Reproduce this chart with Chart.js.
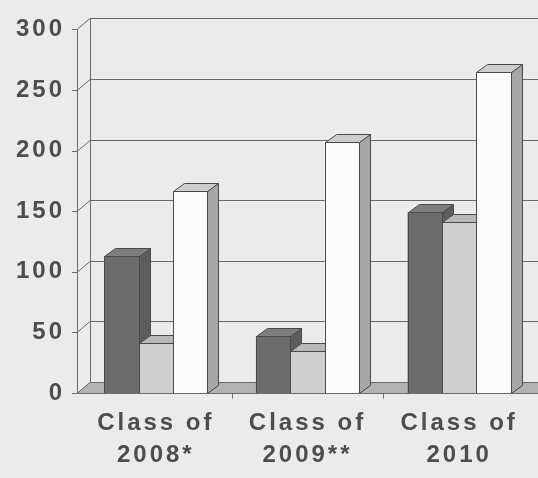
<!DOCTYPE html>
<html>
<head>
<meta charset="utf-8">
<script src="https://cdn.jsdelivr.net/npm/chart.js@4"></script>
<style>
  html, body { margin: 0; padding: 0; background: #ebebeb; }
  canvas { display: block; }
</style>
</head>
<body>
<canvas id="chart" width="538" height="478"></canvas>
<script>
// values (front face of each column)
const categories = [["Class of", "2008*"], ["Class of", "2009**"], ["Class of", "2010"]];
const darkSeries = [113, 47, 149];
const lightSeries = [41, 35, 141];
const whiteSeries = [167, 207, 265];
const yTicks = [0, 50, 100, 150, 200, 250, 300];

const textColor = "#4d4d4d";
const lineColor = "#6a6a6a";
const barDepth = [11, 8];
const wallDepth = [13, 11];
const axisShift = 3; // axis line sits a little left of the first category slot

const faces = [
  { front: "#6c6c6c", top: "#7e7e7e", side: "#5d5d5d" },
  { front: "#cfcfcf", top: "#b9b9b9", side: "#a9a9a9" },
  { front: "#fbfbfb", top: "#cdcdcd", side: "#a6a6a6" }
];

function poly(ctx, pts, fill) {
  ctx.beginPath();
  ctx.moveTo(pts[0][0], pts[0][1]);
  for (let i = 1; i < pts.length; i++) ctx.lineTo(pts[i][0], pts[i][1]);
  ctx.closePath();
  ctx.fillStyle = fill;
  ctx.fill();
  ctx.stroke();
}

const threeD = {
  id: "threeD",
  beforeDraw(chart) {
    chart.ctx.letterSpacing = "3px";
  },
  beforeDatasetsDraw(chart) {
    const { ctx, chartArea: a, scales: { y } } = chart;
    const [wx, wy] = wallDepth;
    const W = chart.width;
    const left = a.left - axisShift;
    ctx.save();
    ctx.lineWidth = 1;
    ctx.strokeStyle = lineColor;

    // floor
    ctx.fillStyle = "#b3b3b3";
    ctx.beginPath();
    ctx.moveTo(left, a.bottom);
    ctx.lineTo(W, a.bottom);
    ctx.lineTo(W, a.bottom - wy);
    ctx.lineTo(left + wx, a.bottom - wy);
    ctx.closePath();
    ctx.fill();

    // back wall grid + tick marks + diagonals
    yTicks.forEach(v => {
      const py = Math.round(y.getPixelForValue(v)) + 0.5;
      ctx.beginPath();
      ctx.moveTo(left - 5, py);
      ctx.lineTo(left, py);
      ctx.lineTo(left + wx, py - wy);
      ctx.lineTo(W, py - wy);
      ctx.stroke();
    });

    // wall left edge and front axis
    const topY = Math.round(y.getPixelForValue(yTicks[yTicks.length - 1])) + 0.5;
    const botY = Math.round(a.bottom) + 0.5;
    ctx.beginPath();
    ctx.moveTo(left + wx + 0.5, topY - wy);
    ctx.lineTo(left + wx + 0.5, botY - wy);
    ctx.moveTo(left + 0.5, topY);
    ctx.lineTo(left + 0.5, botY);
    ctx.stroke();
    ctx.restore();
  },
  afterDatasetsDraw(chart) {
    const { ctx, chartArea: a, scales: { x } } = chart;
    const [dx, dy] = barDepth;
    ctx.save();
    ctx.lineWidth = 1;
    ctx.strokeStyle = "#4a4a4a";
    chart.data.datasets.forEach((ds, i) => {
      const f = faces[i];
      chart.getDatasetMeta(i).data.forEach(bar => {
        const p = bar.getProps(["x", "y", "width", "base"], true);
        const x0 = Math.round(p.x - p.width / 2) + 0.5;
        const x1 = Math.round(p.x + p.width / 2) + 0.5;
        const yt = Math.round(p.y) + 0.5;
        const yb = Math.round(p.base) + 0.5;
        poly(ctx, [[x1, yt], [x1 + dx, yt - dy], [x1 + dx, yb - dy], [x1, yb]], f.side);
        poly(ctx, [[x0, yt], [x1, yt], [x1 + dx, yt - dy], [x0 + dx, yt - dy]], f.top);
        poly(ctx, [[x0, yt], [x1, yt], [x1, yb], [x0, yb]], f.front);
      });
    });

    // front edge of the floor with category ticks
    const by = Math.round(a.bottom) + 0.5;
    ctx.strokeStyle = lineColor;
    ctx.beginPath();
    ctx.moveTo(a.left - axisShift, by);
    ctx.lineTo(chart.width, by);
    for (let i = 1; i < categories.length; i++) {
      const tx = Math.round((x.getPixelForValue(i - 1) + x.getPixelForValue(i)) / 2) + 0.5;
      ctx.moveTo(tx, by);
      ctx.lineTo(tx, by + 5);
    }
    ctx.stroke();
    ctx.restore();
  }
};

const tickFont = { family: "'Liberation Sans', Arial, sans-serif", size: 24, weight: "bold", lineHeight: 1.33 };

new Chart(document.getElementById("chart"), {
  type: "bar",
  data: {
    labels: categories,
    datasets: [
      { label: "Series 1", data: darkSeries, backgroundColor: faces[0].front, borderWidth: 0 },
      { label: "Series 2", data: lightSeries, backgroundColor: faces[1].front, borderWidth: 0 },
      { label: "Series 3", data: whiteSeries, backgroundColor: faces[2].front, borderWidth: 0 }
    ]
  },
  options: {
    responsive: false,
    animation: false,
    devicePixelRatio: 1,
    layout: { padding: { top: 29, right: 3, left: 0, bottom: 0 } },
    categoryPercentage: 0.68,
    barPercentage: 1.0,
    plugins: { legend: { display: false }, tooltip: { enabled: false } },
    scales: {
      x: {
        grid: { display: false, drawTicks: false },
        border: { display: false },
        ticks: { font: tickFont, color: textColor, padding: 14, maxRotation: 0, autoSkip: false },
        afterFit: s => { s.height = 85; }
      },
      y: {
        min: yTicks[0],
        max: yTicks[yTicks.length - 1],
        grid: { display: false, drawTicks: false },
        border: { display: false },
        ticks: { stepSize: 50, font: { ...tickFont, lineHeight: 1.2 }, color: textColor, padding: 15 },
        afterFit: s => { s.width = 80; }
      }
    }
  },
  plugins: [threeD]
});
</script>
</body>
</html>
